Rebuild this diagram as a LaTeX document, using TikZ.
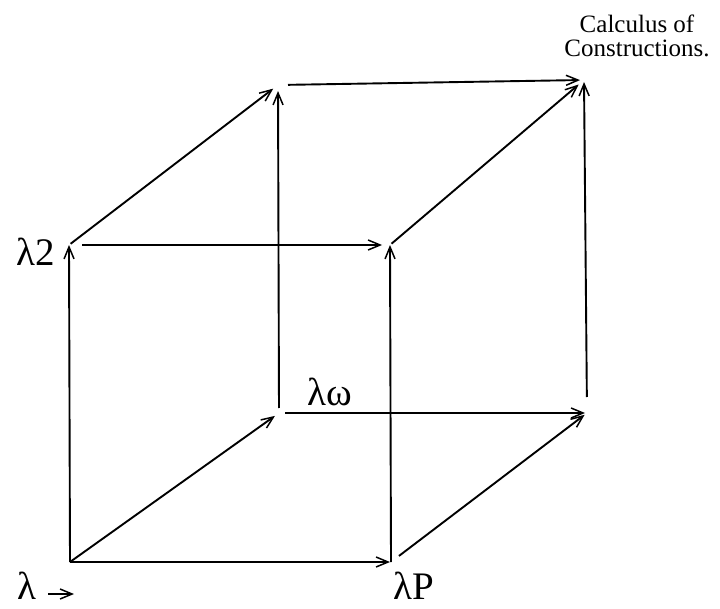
\documentclass[tikz,border=0pt]{standalone}
\usepackage{fontspec}
\setmainfont{Liberation Serif}
\usetikzlibrary{arrows.meta}
\begin{document}
\begin{tikzpicture}[x=1pt,y=-1pt,
  edge/.style={line width=1.9pt, -{Straight Barb[length=12pt,width=10pt,line width=1.5pt]}},
  big/.style={font=\fontsize{39}{39}\selectfont, inner sep=0pt},
  small/.style={font=\fontsize{25}{24}\selectfont, inner sep=0pt, align=center}]
\useasboundingbox (0,0) rectangle (720,609);
% cube vertices
\coordinate (A) at (70,562);
\coordinate (B) at (391,562);
\coordinate (C) at (69,245);
\coordinate (D) at (390,245);
\coordinate (E) at (279,413);
\coordinate (F) at (587,413);
\coordinate (G) at (278,85);
\coordinate (H) at (584,80);
% labels
\node[big, anchor=base] (lam) at (27,599) {λ};
\node[big, anchor=base] (lamP) at (414,599) {λP};
\node[big, anchor=base] (lam2) at (36,266) {λ2};
\node[big, anchor=base] (lamw) at (330,405) {λω};
\node[small] (coc) at (637,36) {Calculus of\\Constructions.};
% small arrow after lambda
\coordinate (s1) at (48,594);
\coordinate (s2) at (74,594);
\draw[edge, line width=1.4pt] (s1) -- (s2);
% edges
\draw[edge] (A) -- (C);
\draw[edge, shorten >=1pt] (A) -- (B);
\draw[edge, shorten >=5pt] (A) -- (E);
\draw[edge, shorten <=13pt, shorten >=8pt] (C) -- (D);
\draw[edge, shorten <=2pt, shorten >=6pt] (C) -- (G);
\draw[edge] (B) -- (D);
\draw[edge, shorten <=10pt, shorten >=3pt] (B) -- (F);
\draw[edge, shorten <=5pt, shorten >=6pt] (E) -- (G);
\draw[edge, shorten <=6pt, shorten >=2pt] (E) -- (F);
\draw[edge, shorten <=2pt, shorten >=7pt] (D) -- (H);
\draw[edge, shorten <=10pt, shorten >=4pt] (G) -- (H);
\draw[edge, shorten <=16pt, shorten >=2pt] (F) -- (H);
\end{tikzpicture}
\end{document}
